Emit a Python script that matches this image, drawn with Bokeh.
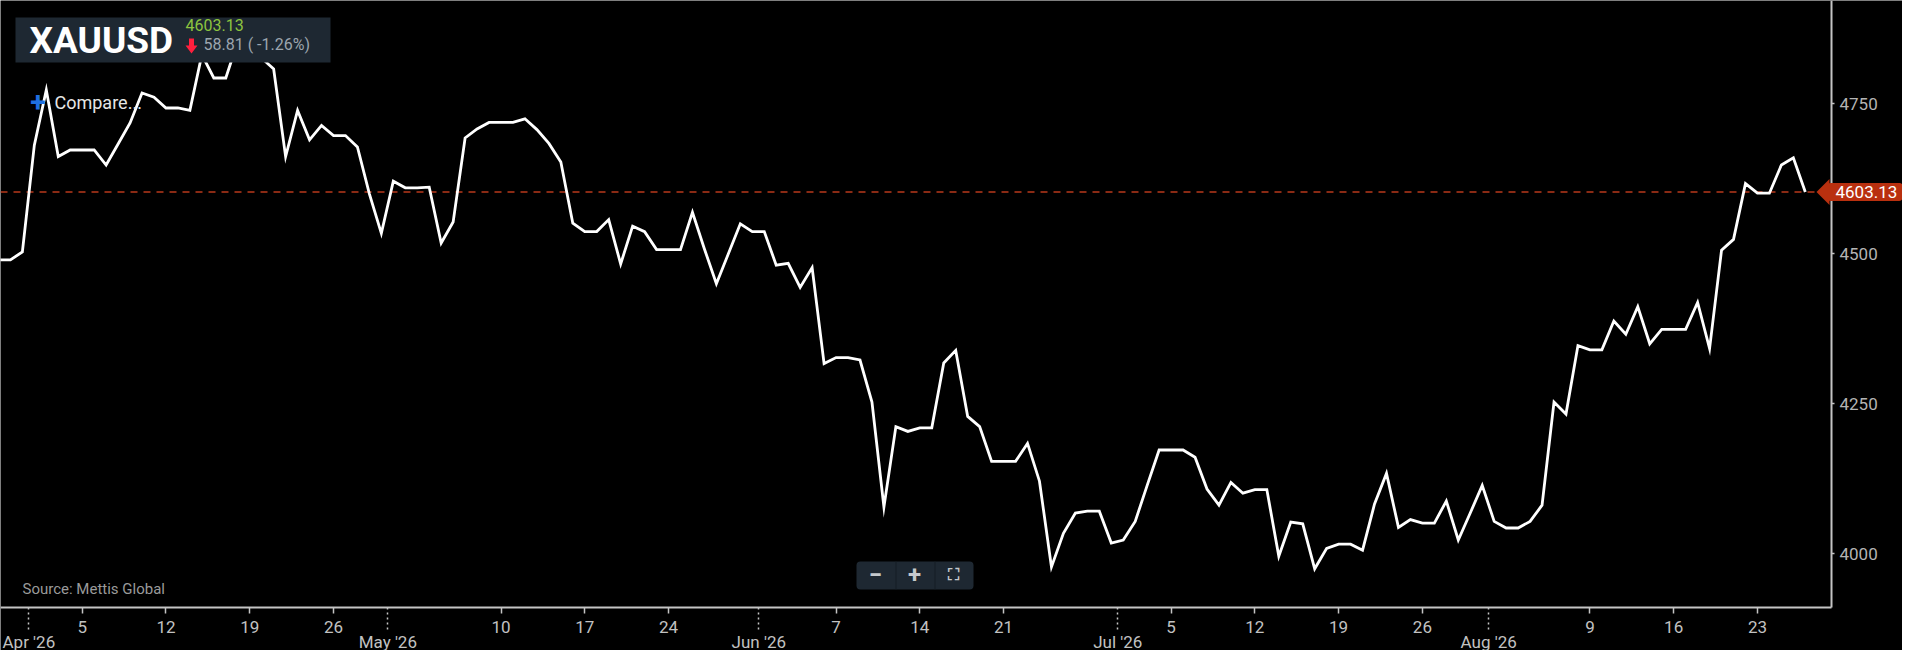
import pandas as pd
from bokeh.plotting import figure
from bokeh.models import (Range1d, LinearAxis, FixedTicker, Span, Label,
                          BoxAnnotation, PolyAnnotation)
from bokeh.embed import file_html
from bokeh.resources import INLINE

# ---------------- data ----------------
symbol = "XAUUSD"
price_change = 58.81
price_change_pct = -1.26
source_note = "Source: Mettis Global"
compare_text = "Compare..."
start_date = "2026-03-29"

mar_values = [4490, 4490, 4503]
apr_values = [4681, 4773, 4662, 4673, 4673, 4673, 4648, 4683, 4718, 4768,
              4761, 4743, 4743, 4739, 4832, 4793, 4793, 4854, 4856, 4826,
              4808, 4662, 4739, 4690, 4714, 4697, 4697, 4678, 4600, 4534]
may_values = [4621, 4610, 4610, 4611, 4518, 4553, 4693, 4708, 4719, 4719,
              4719, 4725, 4707, 4684, 4653, 4551, 4537, 4537, 4557, 4483,
              4546, 4537, 4507, 4507, 4507, 4569, 4508, 4450, 4500, 4550,
              4537]
jun_values = [4537, 4481, 4484, 4444, 4477, 4317, 4327, 4327, 4323, 4253,
              4078, 4212, 4204, 4210, 4210, 4318, 4339, 4229, 4212, 4154,
              4154, 4154, 4184, 4121, 3978, 4034, 4068, 4071, 4071, 4018]
jul_values = [4023, 4054, 4114, 4173, 4173, 4173, 4161, 4108, 4081, 4119,
              4101, 4107, 4107, 3996, 4053, 4050, 3975, 4009, 4016, 4016,
              4006, 4083, 4134, 4044, 4057, 4051, 4051, 4088, 4023, 4068,
              4114]
aug_values = [4054, 4043, 4043, 4054, 4081, 4253, 4233, 4347, 4340, 4340,
              4388, 4366, 4412, 4350, 4374, 4374, 4374, 4419, 4342, 4506,
              4524, 4617, 4601, 4601, 4648, 4660, 4603.13]

week_tick_dates = ["2026-04-05", "2026-04-12", "2026-04-19", "2026-04-26",
                   "2026-05-10", "2026-05-17", "2026-05-24", "2026-06-07",
                   "2026-06-14", "2026-06-21", "2026-07-05", "2026-07-12",
                   "2026-07-19", "2026-07-26", "2026-08-09", "2026-08-16",
                   "2026-08-23"]
week_tick_labels = ["5", "12", "19", "26", "10", "17", "24", "7", "14", "21",
                    "5", "12", "19", "26", "9", "16", "23"]
month_tick_dates = ["2026-04-01", "2026-05-01", "2026-06-01", "2026-07-01",
                    "2026-08-01"]
month_tick_labels = ["Apr '26", "May '26", "Jun '26", "Jul '26", "Aug '26"]
y_ticks = [4000, 4250, 4500, 4750]

values = mar_values + apr_values + may_values + jun_values + jul_values + aug_values
dates = pd.date_range(start_date, periods=len(values), freq="D")
last_price = values[-1]


def to_ms(ts):
    return int(pd.Timestamp(ts).value // 10**6)


x_ms = [to_ms(d) for d in dates]
week_ms = [to_ms(d) for d in week_tick_dates]
month_ms = [to_ms(pd.Timestamp(d) - pd.Timedelta(hours=11)) for d in month_tick_dates]

# ---------------- geometry (layout only) ----------------
W, H = 1902, 650
PX_PER_DAY = 11.966
MS_PER_PX = 86400000 / PX_PER_DAY
x_start = to_ms("2026-04-05") - 81.7 * MS_PER_PX      # frame left edge
x_end = x_start + W * MS_PER_PX
x_axis_right = x_start + 1831 * MS_PER_PX             # right axis position
PX_PER_UNIT = 0.6
y_hi = 4750 + 103.3 / PX_PER_UNIT                     # frame top
y_lo = y_hi - H / PX_PER_UNIT
y_axis_base = y_hi - 607 / PX_PER_UNIT                # bottom axis position

p = figure(width=W, height=H,
           x_range=Range1d(x_start, x_end), y_range=Range1d(y_lo, y_hi),
           x_axis_type=None, y_axis_type=None,
           output_backend="svg", toolbar_location=None,
           background_fill_color="black", border_fill_color="black",
           outline_line_color=None, min_border=0)

AX = "#c4c4c4"
LBL = "#c2c2c2"

xa = LinearAxis(ticker=FixedTicker(ticks=week_ms, minor_ticks=[]),
                major_label_overrides=dict(zip(week_ms, week_tick_labels)),
                fixed_location=y_axis_base, bounds=(x_start, x_axis_right),
                axis_line_color=AX, axis_line_width=2,
                major_tick_line_color=AX, major_tick_line_width=1.5,
                major_tick_in=0, major_tick_out=6,
                minor_tick_line_color=None,
                major_label_text_color=LBL, major_label_text_font="Roboto",
                major_label_text_font_size="17px", major_label_standoff=7)
p.add_layout(xa, "below")

xb = LinearAxis(ticker=FixedTicker(ticks=month_ms, minor_ticks=[]),
                major_label_overrides=dict(zip(month_ms, month_tick_labels)),
                fixed_location=y_axis_base, bounds=(x_start, x_axis_right),
                axis_line_color=None,
                major_tick_line_color=AX, major_tick_line_width=1.5,
                major_tick_line_dash="2 3",
                major_tick_in=0, major_tick_out=22,
                minor_tick_line_color=None,
                major_label_text_color=LBL, major_label_text_font="Roboto",
                major_label_text_font_size="17px", major_label_standoff=2)
p.add_layout(xb, "below")

ya = LinearAxis(ticker=FixedTicker(ticks=y_ticks, minor_ticks=[]),
                fixed_location=x_axis_right, bounds=(y_axis_base, y_hi),
                axis_line_color=AX, axis_line_width=2,
                major_tick_line_color=AX, major_tick_line_width=1.5,
                major_tick_in=0, major_tick_out=3,
                minor_tick_line_color=None,
                major_label_text_color="#b4b4b4", major_label_text_font="Roboto",
                major_label_text_font_size="17px", major_label_standoff=5)
p.add_layout(ya, "right")

# last price dashed line
p.add_layout(Span(location=last_price, dimension="width", line_color="#b8391b",
                  line_dash="7 6", line_width=1.5, level="underlay"))

# price series
p.line(x_ms, values, line_color="white", line_width=2.8, line_join="miter")

# price tag on the right axis
TAG = "#b9300f"
half = 13 / PX_PER_UNIT
p.add_layout(PolyAnnotation(xs=[1816, 1829, 1829],
                            ys=[last_price, last_price + half, last_price - half],
                            xs_units="screen", ys_units="data",
                            fill_color=TAG, fill_alpha=1, line_color=None))
p.add_layout(Label(x=1827, y=last_price, x_units="screen", y_units="data",
                   text=f"{last_price:.2f}", text_color="white",
                   text_font="Roboto", text_font_size="17px",
                   text_baseline="middle", text_align="left",
                   background_fill_color=TAG, background_fill_alpha=1,
                   padding=dict(left=8, right=5, top=3, bottom=3),
                   border_radius=3))


def sy(canvas_y):
    return H - canvas_y


# header box
HEAD = "#1e2832"
p.add_layout(BoxAnnotation(left=15, right=330, bottom=sy(62), top=sy(17),
                           left_units="screen", right_units="screen",
                           bottom_units="screen", top_units="screen",
                           fill_color=HEAD, fill_alpha=1, line_color=None))
p.add_layout(Label(x=29, y=sy(40), x_units="screen", y_units="screen",
                   text=symbol, text_color="white",
                   text_font="Roboto", text_font_style="bold",
                   text_font_size="37px", text_baseline="alphabetic"))
p.add_layout(Label(x=185, y=sy(24.5), x_units="screen", y_units="screen",
                   text=f"{last_price:.2f}", text_color="#8dc43f",
                   text_font="Roboto", text_font_size="16px",
                   text_baseline="alphabetic"))
# red down arrow
ax0 = 191
p.add_layout(PolyAnnotation(xs=[ax0 - 2.5, ax0 + 2.5, ax0 + 2.5, ax0 + 6, ax0, ax0 - 6, ax0 - 2.5],
                            ys=[sy(38), sy(38), sy(45), sy(45), sy(53), sy(45), sy(45)],
                            xs_units="screen", ys_units="screen",
                            fill_color="#ff1f3d", fill_alpha=1, line_color=None))
p.add_layout(Label(x=203, y=sy(43.5), x_units="screen", y_units="screen",
                   text=f"{price_change:.2f} ( {price_change_pct:.2f}%)",
                   text_color="#9ca5ae", text_font="Roboto", text_font_size="16px",
                   text_baseline="alphabetic"))

# compare button
p.add_layout(Label(x=37.5, y=sy(101), x_units="screen", y_units="screen",
                   text="+", text_color="#1f6fe0", text_font="Roboto",
                   text_font_style="bold", text_font_size="28px",
                   text_align="center", text_baseline="middle"))
p.add_layout(Label(x=54, y=sy(102), x_units="screen", y_units="screen",
                   text=compare_text, text_color="#e6e6e6", text_font="Roboto",
                   text_font_size="18px", text_baseline="alphabetic"))

# source note
p.add_layout(Label(x=22, y=sy(588), x_units="screen", y_units="screen",
                   text=source_note, text_color="#9a9a9a", text_font="Roboto",
                   text_font_size="15px", text_baseline="alphabetic"))

# zoom controls
p.add_layout(BoxAnnotation(left=856, right=973, bottom=sy(589), top=sy(561),
                           left_units="screen", right_units="screen",
                           bottom_units="screen", top_units="screen",
                           fill_color=HEAD, fill_alpha=1, line_color=None,
                           border_radius=4))
for sx in (895, 934):
    p.add_layout(BoxAnnotation(left=sx, right=sx + 1, bottom=sy(589), top=sy(561),
                               left_units="screen", right_units="screen",
                               bottom_units="screen", top_units="screen",
                               fill_color="#141d25", fill_alpha=1, line_color=None))
for sx, ch, fnt, size in ((875, "\u2212", "Roboto", "24px"),
                          (914, "+", "Roboto", "24px"),
                          (953, "\u26f6", "DejaVu Sans", "16px")):
    p.add_layout(Label(x=sx, y=sy(574), x_units="screen", y_units="screen",
                       text=ch, text_color="#c5c9cd", text_font=fnt,
                       text_font_style="bold", text_font_size=size,
                       text_align="center", text_baseline="middle"))

open("out.html", "w").write(file_html(p, INLINE))
